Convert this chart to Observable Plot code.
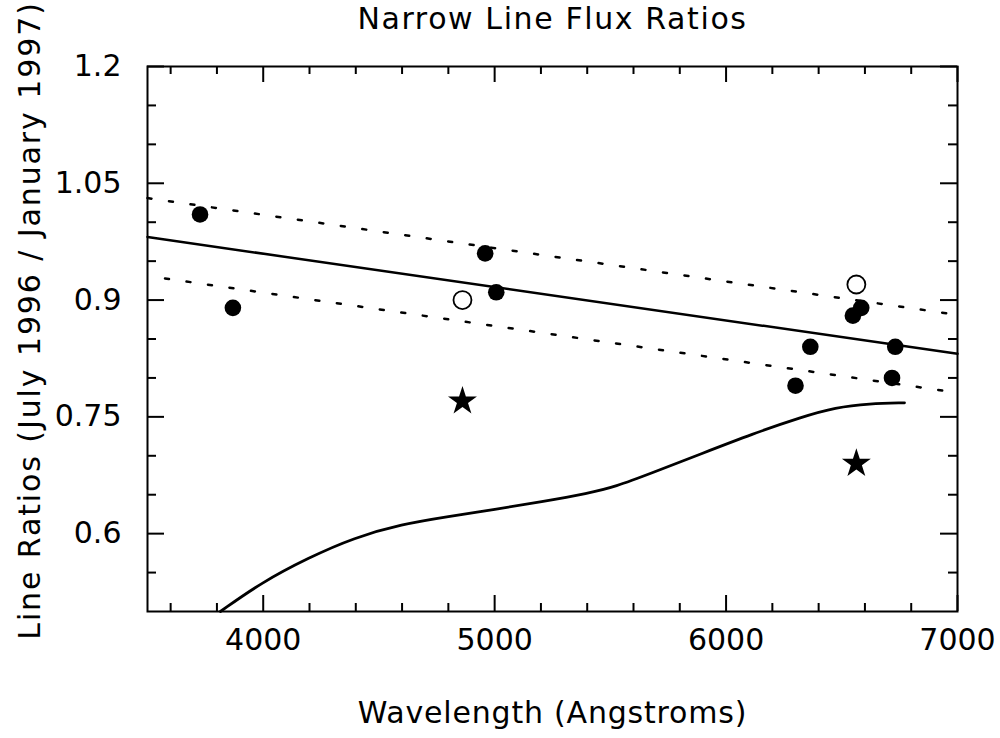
<!DOCTYPE html>
<html><head><meta charset="utf-8">
<script src="https://cdn.jsdelivr.net/npm/d3@7"></script>
<script src="https://cdn.jsdelivr.net/npm/@observablehq/plot@0.6"></script>
<style>body{margin:0;background:#fff}</style>
</head><body><div id="chart"></div>
<script>
const title = "Narrow Line Flux Ratios";
const xLabel = "Wavelength (Angstroms)";
const yLabel = "Line Ratios (July 1996 / January 1997)";
const xMajor = [4000, 5000, 6000, 7000];
const xMinor = [3600, 3800, 4200, 4400, 4600, 4800, 5200, 5400, 5600, 5800, 6200, 6400, 6600, 6800];
const yMajor = [0.6, 0.75, 0.9, 1.05, 1.2];
const yMinor = [0.55, 0.65, 0.7, 0.8, 0.85, 0.95, 1.0, 1.1, 1.15];
const filledWave = [3727, 3869, 4959, 5007, 6300, 6364, 6548, 6584, 6717, 6731];
const filledRatio = [1.01, 0.89, 0.96, 0.91, 0.79, 0.84, 0.88, 0.89, 0.80, 0.84];
const openWave = [4861, 6563];
const openRatio = [0.90, 0.92];
const starWave = [4861, 6563];
const starRatio = [0.77, 0.69];
const fitWave = [3500, 7000];
const fitRatio = [0.981, 0.831];
const upperRatio = [1.031, 0.881];
const lowerRatio = [0.931, 0.781];
const curveWave = [3815, 3991, 4195, 4394, 4597, 4801, 5000, 5203, 5407, 5519, 5680, 5896, 6113, 6329, 6472, 6619, 6771];
const curveRatio = [0.5, 0.537, 0.569, 0.595, 0.612, 0.622, 0.631, 0.641, 0.652, 0.660, 0.678, 0.703, 0.728, 0.750, 0.762, 0.767, 0.768];

const W = 1000, H = 738, ML = 147, MR = 43, MT = 66, MB = 127;
const FW = W - ML - MR, FH = H - MT - MB;
const idx = (a) => a.map((_, i) => i);
const fitIdx = idx(fitWave);

const chart = Plot.plot({
  width: W, height: H,
  marginLeft: ML, marginRight: MR, marginTop: MT, marginBottom: MB,
  style: {fontFamily: "DejaVu Sans", background: "#fff", color: "#000"},
  x: {domain: [3500, 7000]},
  y: {domain: [0.5, 1.2]},
  marks: [
    Plot.line(fitIdx, {x: i => fitWave[i], y: i => fitRatio[i], stroke: "black", strokeWidth: 2.5}),
    Plot.line(fitIdx, {x: i => fitWave[i], y: i => upperRatio[i], stroke: "black", strokeWidth: 2.5, strokeDasharray: "4,17.7"}),
    Plot.line(fitIdx, {x: i => fitWave[i], y: i => lowerRatio[i], stroke: "black", strokeWidth: 2.5, strokeDasharray: "4,17.7", strokeDashoffset: 4}),
    Plot.line(idx(curveWave), {x: i => curveWave[i], y: i => curveRatio[i], stroke: "black", strokeWidth: 2.8, curve: "basis"}),
    Plot.dot(idx(filledWave), {x: i => filledWave[i], y: i => filledRatio[i], r: 8.3, fill: "black", stroke: "none"}),
    Plot.dot(idx(openWave), {x: i => openWave[i], y: i => openRatio[i], r: 9, fill: "white", stroke: "black", strokeWidth: 1.8}),
    Plot.dot(idx(starWave), {x: i => starWave[i], y: i => starRatio[i], r: 9.1, symbol: "star", fill: "black", stroke: "none"}),
    // ticks (inward, all four sides)
    Plot.tickX(xMajor, {x: d => d, stroke: "black", strokeWidth: 2, insetTop: FH - 16}),
    Plot.tickX(xMajor, {x: d => d, stroke: "black", strokeWidth: 2, insetBottom: FH - 16}),
    Plot.tickX(xMinor, {x: d => d, stroke: "black", strokeWidth: 2, insetTop: FH - 8}),
    Plot.tickX(xMinor, {x: d => d, stroke: "black", strokeWidth: 2, insetBottom: FH - 8}),
    Plot.tickY(yMajor, {y: d => d, stroke: "black", strokeWidth: 2, insetRight: FW - 17}),
    Plot.tickY(yMajor, {y: d => d, stroke: "black", strokeWidth: 2, insetLeft: FW - 17}),
    Plot.tickY(yMinor, {y: d => d, stroke: "black", strokeWidth: 2, insetRight: FW - 9}),
    Plot.tickY(yMinor, {y: d => d, stroke: "black", strokeWidth: 2, insetLeft: FW - 9}),
    Plot.frame({stroke: "black", strokeWidth: 2}),
    Plot.axisX(xMajor, {anchor: "bottom", tickSize: 0, tickPadding: 17, fontSize: 30, tickFormat: d => `${d}`, label: null, fill: "black"}),
    Plot.axisY(yMajor, {anchor: "left", tickSize: 0, tickPadding: 26, fontSize: 30, tickFormat: d => `${d}`, label: null, fill: "black"}),
    Plot.text([title], {frameAnchor: "top", dy: -47.5, lineAnchor: "middle", textAnchor: "middle", fontSize: 30, fill: "black", text: d => d}),
    Plot.text([xLabel], {frameAnchor: "bottom", dy: 102, lineAnchor: "middle", textAnchor: "middle", fontSize: 30, fill: "black", text: d => d}),
    Plot.text([yLabel], {frameAnchor: "left", dx: -117, dy: -18.5, rotate: -90, lineAnchor: "middle", textAnchor: "middle", fontSize: 30, fill: "black", text: d => d})
  ]
});
// widen lettering to match reference stroke font proportions
d3.select(chart).selectAll("text").each(function() {
  const t = this.textContent;
  if (t === title) this.setAttribute("letter-spacing", "1.6");
  if (t === xLabel) this.setAttribute("letter-spacing", "0.8");
  if (t === yLabel) this.setAttribute("letter-spacing", "1.9");
});
document.getElementById("chart").appendChild(chart);
</script>
</body></html>
